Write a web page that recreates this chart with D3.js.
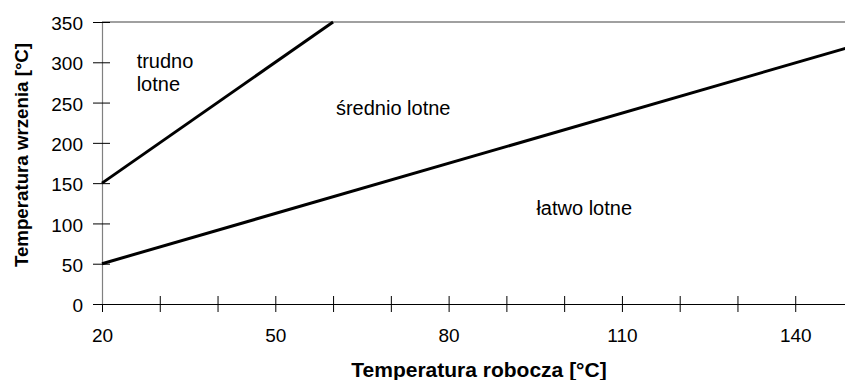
<!DOCTYPE html>
<html>
<head>
<meta charset="utf-8">
<script src="https://cdn.jsdelivr.net/npm/d3@7"></script>
<style>
  body { margin: 0; background: #fff; }
  svg { display: block; font-family: "Liberation Sans", Arial, sans-serif; }
</style>
</head>
<body>
<div id="chart"></div>
<script>

// data

var xTicks = [20, 30, 40, 50, 60, 70, 80, 90, 100, 110, 120, 130, 140],
    xLabels = [20, 50, 80, 110, 140],
    yTicks = [0, 50, 100, 150, 200, 250, 300, 350];

// boundary lines: [working temp, boiling temp]
var hardLine = [[20, 150], [60, 350]],
    easyLine = [[20, 50], [150, 320]];

// region labels, anchored in data units
var regionLabels = [
  { lines: ["trudno", "lotne"], x: 26, y: 293 },
  { lines: ["średnio lotne"], x: 60.5, y: 235 },
  { lines: ["łatwo lotne"], x: 95.2, y: 110.5 }
];

// sizes

var width = 845,
    height = 380,
    marginLeft = 102,
    marginTop = 22,
    plotBottom = 304;

var x = d3.scaleLinear()
  .domain([20, 150])
  .range([marginLeft, 853]);

var y = d3.scaleLinear()
  .domain([0, 350])
  .range([plotBottom, marginTop]);

var svg = d3.select("#chart").append("svg")
  .attr("width", width)
  .attr("height", height);

// top border

svg.append("line")
  .attr("x1", x(20)).attr("x2", width)
  .attr("y1", y(350)).attr("y2", y(350))
  .attr("stroke", "#808080")
  .attr("stroke-width", 1.5);

// x axis

var xAxis = svg.append("g")
  .attr("transform", "translate(0," + plotBottom + ")")
  .call(d3.axisBottom(x)
    .tickValues(xTicks)
    .tickSizeOuter(0)
    .tickFormat(function(d) { return xLabels.indexOf(d) >= 0 ? d : ""; }));

xAxis.select(".domain").attr("stroke", "#000").attr("stroke-width", 1.2);
xAxis.selectAll(".tick line").attr("y1", -8).attr("y2", 8).attr("stroke", "#000");
xAxis.selectAll(".tick text")
  .attr("y", 38)
  .attr("dy", null)
  .attr("fill", "#000")
  .style("font-size", "19px");

// y axis

var yAxis = svg.append("g")
  .attr("transform", "translate(" + marginLeft + ",0)")
  .call(d3.axisLeft(y)
    .tickValues(yTicks)
    .tickSizeOuter(0));

yAxis.select(".domain").attr("stroke", "#808080").attr("stroke-width", 1.2);
yAxis.selectAll(".tick line").attr("x1", 8).attr("x2", -9).attr("stroke", "#000");
yAxis.selectAll(".tick text")
  .attr("x", -19)
  .attr("dy", "0.4em")
  .attr("fill", "#000")
  .style("font-size", "19px");

// boundary lines

var line = d3.line()
  .x(function(d) { return x(d[0]); })
  .y(function(d) { return y(d[1]); });

[hardLine, easyLine].forEach(function(pts) {
  svg.append("path")
    .attr("d", line(pts))
    .attr("fill", "none")
    .attr("stroke", "#000")
    .attr("stroke-width", 3);
});

// region labels

regionLabels.forEach(function(lab) {
  var t = svg.append("text")
    .attr("x", x(lab.x))
    .attr("y", y(lab.y))
    .style("font-size", "20px")
    .attr("fill", "#000");
  lab.lines.forEach(function(s, i) {
    t.append("tspan")
      .attr("x", x(lab.x))
      .attr("dy", i === 0 ? 0 : 23.4)
      .text(s);
  });
});

// axis titles

svg.append("text")
  .attr("x", 479)
  .attr("y", 376.5)
  .attr("text-anchor", "middle")
  .style("font-size", "21px")
  .style("font-weight", "bold")
  .text("Temperatura robocza [°C]");

svg.append("text")
  .attr("transform", "translate(27.5,155) rotate(-90)")
  .attr("text-anchor", "middle")
  .style("font-size", "18.7px")
  .style("font-weight", "bold")
  .text("Temperatura wrzenia [°C]");

</script>
</body>
</html>
